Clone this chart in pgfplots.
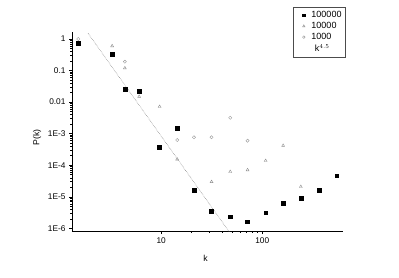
\documentclass[border=0pt]{standalone}
\usepackage{pgfplots}
\pgfplotsset{compat=1.18}
\usepackage{fontspec}
\setmainfont{Liberation Sans}
\pgfplotsset{myleg/.style={legend image code/.code={\path[draw=none,fill=none] (0cm,-2pt) (0.5cm,2pt); \draw[#1,mark size=1.35pt] plot coordinates {(0.3cm,0cm)};}}}
\begin{document}
\begin{tikzpicture}
\begin{axis}[
  at={(0,0)}, anchor=south west,
  scale only axis, width=271pt, height=199pt,
  xmode=log, ymode=log,
  xmin=1.31, xmax=630, ymin=8.3e-7, ymax=1.66,
  axis x line=bottom, axis y line=left,
  axis line style={-, line width=0.8pt},
  tick align=outside,
  major tick length=3pt, minor tick length=1.6pt,
  every tick/.style={black, line width=0.6pt},
  xtick={10,100}, xticklabels={10,100},
  ytick={1e-6,1e-5,1e-4,1e-3,1e-2,1e-1,1},
  yticklabels={1E-6,1E-5,1E-4,1E-3,0.01,0.1,1},
  tick label style={font=\fontsize{8.3}{9}\selectfont},
  xlabel={k}, ylabel={P(k)},
  label style={font=\fontsize{8.7}{10}\selectfont},
  xlabel style={at={(axis description cs:0.493,-0.135)}, anchor=center},
  ylabel style={at={(axis description cs:-0.129,0.47)}, anchor=center},
  legend style={at={(axis description cs:0.8155,1.1256)}, anchor=north west,
    font=\fontsize{9}{10.5}\selectfont, draw=black!70, line width=0.5pt,
    inner xsep=2pt, inner ysep=2pt, row sep=-0.8pt, legend cell align=left},
  clip=true,
]
\addplot[only marks, mark=square*, mark size=1.9pt, black, myleg] coordinates {
 (1.51,0.73) (3.27,0.33) (4.37,0.0256) (6.05,0.0225) (9.64,3.7e-4)
 (14.4,1.5e-3) (21.1,1.58e-5) (31.5,3.6e-6) (48.2,2.35e-6) (71.6,1.64e-6)
 (108,3.16e-6) (161,6.4e-6) (241,9.2e-6) (364,1.6e-5) (545,4.7e-5)};
\addlegendentry{100000}
\addplot[only marks, mark=triangle, mark size=1.7pt, black!45, line width=0.4pt, myleg] coordinates {
 (3.27,0.6) (4.37,0.12) (6.05,0.015) (9.64,7.2e-3) (14.4,1.55e-4)
 (31.5,3.0e-5) (48.2,6.3e-5) (71.6,7.1e-5) (108,1.4e-4) (161,4.2e-4) (241,2.1e-5)};
\addlegendentry{10000}
\addplot[only marks, mark=o, mark size=1.6pt, black!40, line width=0.4pt, myleg] coordinates {
 (1.51,1.0) (4.37,0.19) (14.4,6.3e-4) (21.1,7.7e-4) (31.5,7.7e-4) (48.2,3.2e-3) (71.6,6.0e-4)};
\addlegendentry{1000}
\addplot[black!55, densely dotted, line width=0.5pt, forget plot] coordinates {(1.89,1.51) (48,7.2e-7)};
\addlegendimage{empty legend}
\addlegendentry{\hspace*{3.5pt}k$^{4.5}$\rule[-16pt]{0pt}{0pt}}
\end{axis}
\path[use as bounding box] (-72pt,-47pt) rectangle (327pt,231pt);
\end{tikzpicture}
\end{document}
